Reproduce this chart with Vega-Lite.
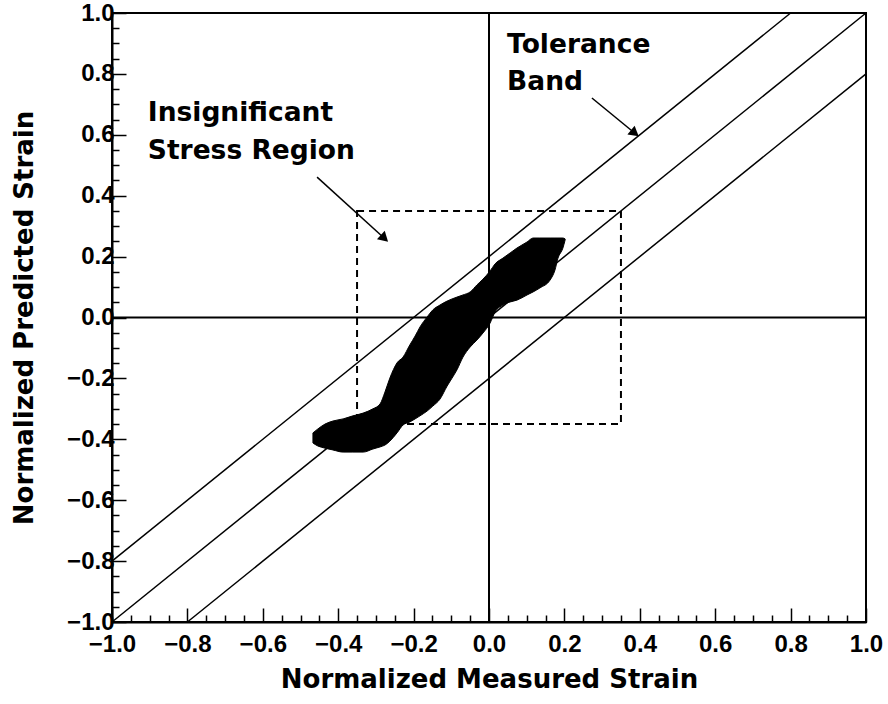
{
  "$schema": "https://vega.github.io/schema/vega-lite/v6.json",
  "width": 754,
  "height": 609,
  "autosize": {"type": "none"},
  "padding": {"left": 112, "top": 13, "right": 22, "bottom": 82},
  "background": "white",
  "config": {
    "view": {"stroke": "black", "strokeWidth": 2},
    "axis": {
      "grid": false,
      "domainColor": "black",
      "domainWidth": 2,
      "tickColor": "black",
      "tickWidth": 1.5,
      "labelColor": "black",
      "labelFont": "Liberation Sans",
      "labelFontWeight": "bold",
      "labelFontSize": 24,
      "labelFlush": false,
      "labelOverlap": false,
      "titleColor": "black",
      "titleFont": "DejaVu Sans",
      "titleFontWeight": "bold",
      "titleFontSize": 26
    }
  },
  "resolve": {"axis": {"x": "independent", "y": "independent"}},
  "datasets": {
    "blob": [
      {"x": -0.467, "lo": -0.412, "hi": -0.379},
      {"x": -0.454, "lo": -0.422, "hi": -0.366},
      {"x": -0.435, "lo": -0.429, "hi": -0.350},
      {"x": -0.414, "lo": -0.435, "hi": -0.340},
      {"x": -0.387, "lo": -0.442, "hi": -0.333},
      {"x": -0.361, "lo": -0.442, "hi": -0.323},
      {"x": -0.334, "lo": -0.442, "hi": -0.314},
      {"x": -0.308, "lo": -0.432, "hi": -0.300},
      {"x": -0.289, "lo": -0.425, "hi": -0.284},
      {"x": -0.276, "lo": -0.419, "hi": -0.245},
      {"x": -0.263, "lo": -0.406, "hi": -0.199},
      {"x": -0.244, "lo": -0.379, "hi": -0.149},
      {"x": -0.228, "lo": -0.353, "hi": -0.130},
      {"x": -0.210, "lo": -0.343, "hi": -0.090},
      {"x": -0.196, "lo": -0.333, "hi": -0.061},
      {"x": -0.183, "lo": -0.323, "hi": -0.031},
      {"x": -0.164, "lo": -0.307, "hi": 0.002},
      {"x": -0.149, "lo": -0.291, "hi": 0.025},
      {"x": -0.130, "lo": -0.268, "hi": 0.041},
      {"x": -0.111, "lo": -0.225, "hi": 0.054},
      {"x": -0.098, "lo": -0.199, "hi": 0.061},
      {"x": -0.085, "lo": -0.172, "hi": 0.067},
      {"x": -0.069, "lo": -0.130, "hi": 0.074},
      {"x": -0.050, "lo": -0.097, "hi": 0.084},
      {"x": -0.032, "lo": -0.074, "hi": 0.107},
      {"x": -0.016, "lo": -0.051, "hi": 0.126},
      {"x": 0.003, "lo": -0.018, "hi": 0.153},
      {"x": 0.016, "lo": 0.018, "hi": 0.176},
      {"x": 0.037, "lo": 0.041, "hi": 0.195},
      {"x": 0.056, "lo": 0.051, "hi": 0.212},
      {"x": 0.074, "lo": 0.057, "hi": 0.228},
      {"x": 0.101, "lo": 0.074, "hi": 0.248},
      {"x": 0.117, "lo": 0.084, "hi": 0.261},
      {"x": 0.135, "lo": 0.097, "hi": 0.261},
      {"x": 0.162, "lo": 0.123, "hi": 0.261},
      {"x": 0.175, "lo": 0.156, "hi": 0.261},
      {"x": 0.183, "lo": 0.195, "hi": 0.261},
      {"x": 0.196, "lo": 0.228, "hi": 0.261},
      {"x": 0.202, "lo": 0.255, "hi": 0.258}
    ],
    "lines": [
      {"line": "upper", "x": -1, "y": -0.8},
      {"line": "upper", "x": 0.8, "y": 1},
      {"line": "middle", "x": -1, "y": -1},
      {"line": "middle", "x": 1, "y": 1},
      {"line": "lower", "x": -0.8, "y": -1},
      {"line": "lower", "x": 1, "y": 0.8}
    ],
    "box": [{"x": -0.35, "x2": 0.35, "y": -0.35, "y2": 0.35}],
    "zeroX": [{"x": 0}],
    "zeroY": [{"y": 0}],
    "arrows": [
      {"arrow": "region", "x": -0.456, "y": 0.461},
      {"arrow": "region", "x": -0.274, "y": 0.256},
      {"arrow": "band", "x": 0.273, "y": 0.721},
      {"arrow": "band", "x": 0.391, "y": 0.601}
    ],
    "heads": [
      {"arrow": "region", "x": -0.2805, "y": 0.2635},
      {"arrow": "band", "x": 0.3835, "y": 0.6085}
    ],
    "notes": [
      {"text": "Insignificant", "x": -0.905, "y": 0.645},
      {"text": "Stress Region", "x": -0.905, "y": 0.521},
      {"text": "Tolerance", "x": 0.048, "y": 0.869},
      {"text": "Band", "x": 0.048, "y": 0.747}
    ]
  },
  "layer": [
    {
      "data": {"name": "blob"},
      "mark": {"type": "area", "color": "black", "stroke": "black", "strokeWidth": 1, "interpolate": "monotone"},
      "encoding": {
        "x": {
          "field": "x", "type": "quantitative", "title": "Normalized Measured Strain",
          "scale": {"domain": [-1, 1], "nice": false, "zero": false},
          "axis": {
            "orient": "bottom",
            "values": [-1, -0.8, -0.6, -0.4, -0.2, 0, 0.2, 0.4, 0.6, 0.8, 1],
            "format": ".1f",
            "tickSize": -14,
            "labelPadding": 24,
            "titlePadding": 10
          }
        },
        "y": {
          "field": "lo", "type": "quantitative", "title": "Normalized Predicted Strain",
          "scale": {"domain": [-1, 1], "nice": false, "zero": false},
          "axis": {
            "orient": "left",
            "values": [-1, -0.8, -0.6, -0.4, -0.2, 0, 0.2, 0.4, 0.6, 0.8, 1],
            "format": ".1f",
            "tickSize": -14,
            "labelPadding": 12,
            "titlePadding": 29
          }
        },
        "y2": {"field": "hi"}
      }
    },
    {
      "data": {"name": "zeroX"},
      "mark": {"type": "rule", "color": "black", "strokeWidth": 2},
      "encoding": {
        "x": {
          "field": "x", "type": "quantitative",
          "axis": {
            "orient": "bottom",
            "values": [-0.95, -0.9, -0.85, -0.75, -0.7, -0.65, -0.55, -0.5, -0.45, -0.35, -0.3, -0.25, -0.15, -0.1, -0.05, 0.05, 0.1, 0.15, 0.25, 0.3, 0.35, 0.45, 0.5, 0.55, 0.65, 0.7, 0.75, 0.85, 0.9, 0.95],
            "labels": false,
            "title": null,
            "domain": false,
            "tickSize": -7
          }
        }
      }
    },
    {
      "data": {"name": "zeroY"},
      "mark": {"type": "rule", "color": "black", "strokeWidth": 2},
      "encoding": {
        "y": {
          "field": "y", "type": "quantitative",
          "axis": {
            "orient": "left",
            "values": [-0.95, -0.9, -0.85, -0.75, -0.7, -0.65, -0.55, -0.5, -0.45, -0.35, -0.3, -0.25, -0.15, -0.1, -0.05, 0.05, 0.1, 0.15, 0.25, 0.3, 0.35, 0.45, 0.5, 0.55, 0.65, 0.7, 0.75, 0.85, 0.9, 0.95],
            "labels": false,
            "title": null,
            "domain": false,
            "tickSize": -7
          }
        }
      }
    },
    {
      "data": {"name": "lines"},
      "mark": {"type": "line", "color": "black", "strokeWidth": 1.5},
      "encoding": {
        "x": {"field": "x", "type": "quantitative", "axis": null},
        "y": {"field": "y", "type": "quantitative", "axis": null},
        "detail": {"field": "line"}
      }
    },
    {
      "data": {"name": "box"},
      "mark": {"type": "rect", "fill": null, "filled": false, "stroke": "black", "strokeWidth": 2, "strokeDash": [7, 5]},
      "encoding": {
        "x": {"field": "x", "type": "quantitative", "axis": null},
        "x2": {"field": "x2"},
        "y": {"field": "y", "type": "quantitative", "axis": null},
        "y2": {"field": "y2"}
      }
    },
    {
      "data": {"name": "arrows"},
      "mark": {"type": "line", "color": "black", "strokeWidth": 1.5},
      "encoding": {
        "x": {"field": "x", "type": "quantitative", "axis": null},
        "y": {"field": "y", "type": "quantitative", "axis": null},
        "detail": {"field": "arrow"}
      }
    },
    {
      "data": {"name": "heads"},
      "transform": [{"filter": "datum.arrow == 'region'"}],
      "mark": {"type": "point", "shape": "triangle", "filled": true, "color": "black", "size": 130, "angle": 133, "opacity": 1},
      "encoding": {
        "x": {"field": "x", "type": "quantitative", "axis": null},
        "y": {"field": "y", "type": "quantitative", "axis": null}
      }
    },
    {
      "data": {"name": "heads"},
      "transform": [{"filter": "datum.arrow == 'band'"}],
      "mark": {"type": "point", "shape": "triangle", "filled": true, "color": "black", "size": 130, "angle": 129, "opacity": 1},
      "encoding": {
        "x": {"field": "x", "type": "quantitative", "axis": null},
        "y": {"field": "y", "type": "quantitative", "axis": null}
      }
    },
    {
      "data": {"name": "notes"},
      "mark": {"type": "text", "align": "left", "baseline": "alphabetic", "font": "DejaVu Sans", "fontWeight": "bold", "fontSize": 26.5, "color": "black"},
      "encoding": {
        "x": {"field": "x", "type": "quantitative", "axis": null},
        "y": {"field": "y", "type": "quantitative", "axis": null},
        "text": {"field": "text"}
      }
    }
  ]
}
